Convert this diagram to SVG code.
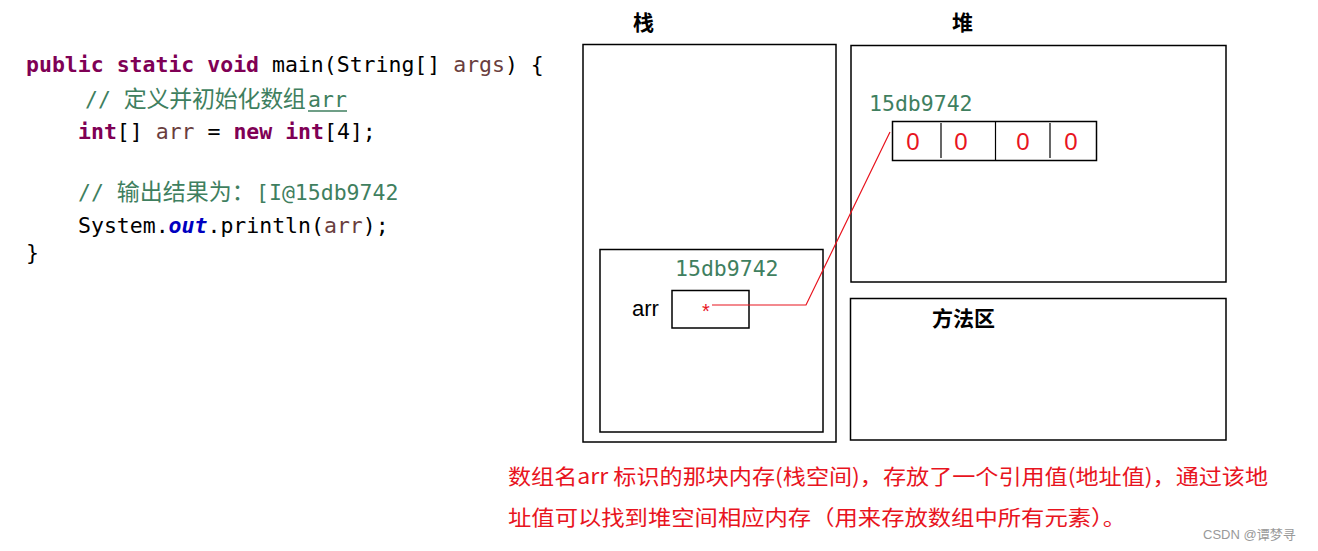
<svg xmlns="http://www.w3.org/2000/svg" width="1318" height="551" viewBox="0 0 1318 551">
<style>
.code{font-family:"DejaVu Sans Mono","Liberation Mono","Noto Sans CJK SC",monospace;font-size:21.5px;fill:#000}
.kw{fill:#7f0055;font-weight:bold}
.var{fill:#6a3e3e}
.cm{fill:#3f7f5f}
.cjk{font-family:"Noto Sans CJK SC",sans-serif;font-size:23px}
.out{fill:#0000c0;font-weight:bold;font-style:italic}
.box{fill:none;stroke:#000;stroke-width:1.5}
.title{font-family:"Noto Sans CJK SC",sans-serif;font-size:21px;font-weight:bold;fill:#000}
.addr{font-family:"DejaVu Sans Mono","Liberation Mono",monospace;font-size:21.5px;fill:#3f7f5f}
.zero{font-family:"Liberation Sans","Noto Sans",sans-serif;font-size:24px;fill:#e8141e;text-anchor:middle}
.note{font-family:"Noto Sans CJK SC",sans-serif;font-size:21px;fill:#e8141e}
.link{fill:none;stroke:#e8141e;stroke-width:1.2}
</style>
<rect width="1318" height="551" fill="#fff"/>
<g id="code">
<text class="code" x="26" y="72"><tspan class="kw">public</tspan> <tspan class="kw">static</tspan> <tspan class="kw">void</tspan> main(String[] <tspan class="var">args</tspan>) {</text>
<text class="code cm" x="85" y="107">// <tspan class="cjk" textLength="182" lengthAdjust="spacing">定义并初始化数组</tspan><tspan x="308">arr</tspan></text>
<line x1="308" y1="111" x2="347" y2="111" stroke="#3f7f5f" stroke-width="1.5"/>
<text class="code" x="78" y="139"><tspan class="kw">int</tspan>[] <tspan class="var">arr</tspan> = <tspan class="kw">new</tspan> <tspan class="kw">int</tspan>[4];</text>
<text class="code cm" x="78" y="200">// <tspan class="cjk">输出结果为：</tspan><tspan x="256">[I@15db9742</tspan></text>
<text class="code" x="78" y="233">System.<tspan class="out">out</tspan>.println(<tspan class="var">arr</tspan>);</text>
<text class="code" x="26" y="260">}</text>
</g>
<g id="stack">
<text class="title" x="633" y="30">栈</text>
<rect class="box" x="583" y="44.5" width="253" height="397.5"/>
<rect class="box" x="600" y="249.5" width="223" height="182.5"/>
<text class="addr" x="675" y="276">15db9742</text>
<text x="632" y="316" font-family="Liberation Sans,Noto Sans,sans-serif" font-size="22" fill="#000">arr</text>
<rect class="box" x="672" y="290.5" width="77" height="37.5"/>
<text x="706" y="318" font-family="Liberation Sans,Noto Sans,sans-serif" font-size="20" fill="#e8141e" text-anchor="middle">*</text>
</g>
<g id="heap">
<text class="title" x="952" y="30">堆</text>
<rect class="box" x="851" y="45.5" width="375" height="236.5"/>
<text class="addr" x="869" y="111">15db9742</text>
<rect class="box" x="892.5" y="121.5" width="204" height="39"/>
<line x1="941" y1="123" x2="941" y2="158" stroke="#000" stroke-width="1.2"/>
<line x1="995.5" y1="122" x2="995.5" y2="160" stroke="#000" stroke-width="1.2"/>
<line x1="1050" y1="123" x2="1050" y2="158" stroke="#000" stroke-width="1.2"/>
<text class="zero" x="913" y="150">0</text>
<text class="zero" x="961" y="150">0</text>
<text class="zero" x="1023" y="150">0</text>
<text class="zero" x="1071" y="150">0</text>
</g>
<g id="method">
<rect class="box" x="850.5" y="298.5" width="375.5" height="141.5"/>
<text class="title" x="932" y="326">方法区</text>
</g>
<g id="connectors">
<polyline class="link" points="712,305 806,305 890,132"/>
</g>
<g id="note">
<text class="note" x="508" y="484" textLength="760" lengthAdjust="spacingAndGlyphs">数组名arr 标识的那块内存(栈空间)，存放了一个引用值(地址值)，通过该地</text>
<text class="note" x="508" y="525" textLength="618" lengthAdjust="spacingAndGlyphs">址值可以找到堆空间相应内存（用来存放数组中所有元素）。</text>
<text x="1203" y="539" font-family="Liberation Sans,Noto Sans CJK SC,sans-serif" font-size="13" fill="#999">CSDN @谭梦寻</text>
</g>
</svg>
